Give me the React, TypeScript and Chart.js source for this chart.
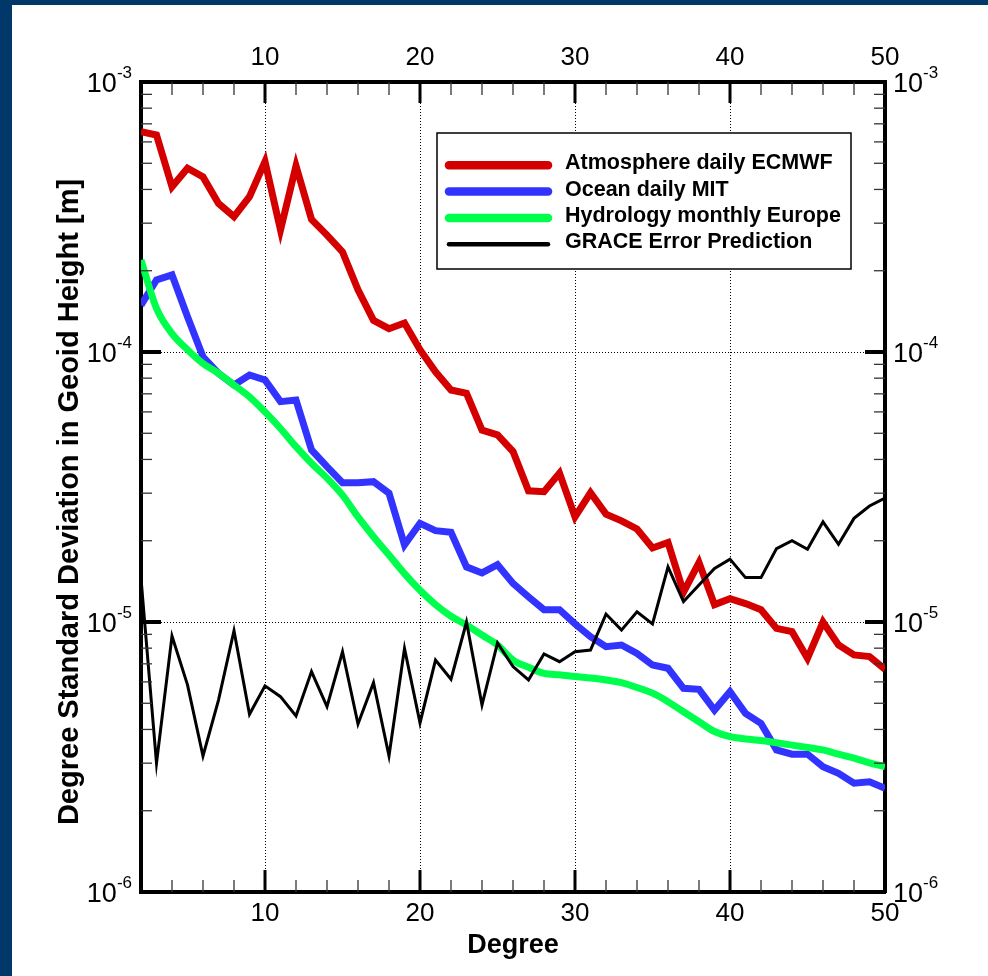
import React, { useEffect, useRef } from 'react';
import { Chart, registerables } from 'chart.js';

Chart.register(...registerables);

const degrees = [2, 3, 4, 5, 6, 7, 8, 9, 10, 11, 12, 13, 14, 15, 16, 17, 18, 19, 20, 21, 22, 23, 24, 25, 26, 27, 28, 29, 30, 31, 32, 33, 34, 35, 36, 37, 38, 39, 40, 41, 42, 43, 44, 45, 46, 47, 48, 49, 50];

const atmosphereDaily = [
  6.55e-4, 6.36e-4, 4.09e-4, 4.79e-4, 4.45e-4, 3.55e-4, 3.17e-4, 3.76e-4, 5.07e-4, 2.83e-4,
  4.89e-4, 3.1e-4, 2.71e-4, 2.35e-4, 1.7e-4, 1.31e-4, 1.22e-4, 1.28e-4, 1.02e-4, 8.45e-5,
  7.23e-5, 7.03e-5, 5.14e-5, 4.93e-5, 4.28e-5, 3.06e-5, 3.04e-5, 3.56e-5, 2.45e-5, 3.01e-5,
  2.51e-5, 2.37e-5, 2.21e-5, 1.88e-5, 1.97e-5, 1.29e-5, 1.66e-5, 1.16e-5, 1.22e-5, 1.17e-5,
  1.11e-5, 9.47e-6, 9.21e-6, 7.34e-6, 1.0e-5, 8.22e-6, 7.55e-6, 7.45e-6, 6.68e-6,
];

const oceanDaily = [
  1.49e-4, 1.85e-4, 1.93e-4, 1.35e-4, 9.6e-5, 8.34e-5, 7.55e-5, 8.22e-5, 7.88e-5, 6.55e-5,
  6.64e-5, 4.34e-5, 3.76e-5, 3.28e-5, 3.28e-5, 3.31e-5, 3.0e-5, 1.93e-5, 2.32e-5, 2.18e-5,
  2.15e-5, 1.6e-5, 1.52e-5, 1.63e-5, 1.39e-5, 1.24e-5, 1.11e-5, 1.11e-5, 9.84e-6, 8.83e-6,
  8.1e-6, 8.22e-6, 7.65e-6, 6.93e-6, 6.74e-6, 5.68e-6, 5.63e-6, 4.72e-6, 5.52e-6, 4.59e-6,
  4.21e-6, 3.36e-6, 3.24e-6, 3.24e-6, 2.91e-6, 2.75e-6, 2.53e-6, 2.56e-6, 2.42e-6,
];

const hydrologyMonthly = [
  2.19e-4, 1.45e-4, 1.17e-4, 1.02e-4, 9.07e-5, 8.34e-5, 7.55e-5, 6.82e-5, 6.0e-5, 5.21e-5,
  4.46e-5, 3.87e-5, 3.41e-5, 2.95e-5, 2.45e-5, 2.07e-5, 1.77e-5, 1.51e-5, 1.31e-5, 1.16e-5,
  1.05e-5, 9.75e-6, 8.95e-6, 8.22e-6, 7.23e-6, 6.8e-6, 6.45e-6, 6.38e-6, 6.28e-6, 6.2e-6,
  6.1e-6, 5.96e-6, 5.72e-6, 5.45e-6, 5.07e-6, 4.65e-6, 4.27e-6, 3.93e-6, 3.76e-6, 3.69e-6,
  3.64e-6, 3.57e-6, 3.5e-6, 3.43e-6, 3.36e-6, 3.24e-6, 3.13e-6, 3.01e-6, 2.91e-6,
];

const graceError = [
  1.45e-5, 3.0e-6, 8.87e-6, 5.85e-6, 3.19e-6, 5.14e-6, 9.29e-6, 4.55e-6, 5.8e-6, 5.29e-6,
  4.49e-6, 6.55e-6, 4.86e-6, 7.76e-6, 4.19e-6, 5.96e-6, 3.19e-6, 7.98e-6, 4.23e-6, 7.23e-6,
  6.14e-6, 1.0e-5, 4.93e-6, 8.36e-6, 6.84e-6, 6.1e-6, 7.61e-6, 7.13e-6, 7.76e-6, 7.87e-6,
  1.07e-5, 9.33e-6, 1.09e-5, 9.84e-6, 1.6e-5, 1.19e-5, 1.37e-5, 1.58e-5, 1.71e-5, 1.46e-5,
  1.46e-5, 1.87e-5, 2.0e-5, 1.86e-5, 2.35e-5, 1.94e-5, 2.42e-5, 2.69e-5, 2.88e-5,
];

const seriesLabels = ['Atmosphere daily ECMWF', 'Ocean daily MIT', 'Hydrology monthly Europe', 'GRACE Error Prediction'];
const seriesColors = ['#d40000', '#3333ff', '#00ff4c', '#000000'];

const xMajorTicks = [10, 20, 30, 40, 50];
const xMinorTicks = [4, 6, 8, 12, 14, 16, 18, 22, 24, 26, 28, 32, 34, 36, 38, 42, 44, 46, 48];
const yTickValues = [1e-6, 1e-5, 1e-4, 1e-3];
const yTickExponents = ['-6', '-5', '-4', '-3'];
const yMinorMultipliers = [2, 3, 4, 5, 6, 7, 8, 9];

const xAxisTitle = 'Degree';
const yAxisTitle = 'Degree Standard Deviation in Geoid Height [m]';

const FONT = '"Liberation Sans", Arial, Helvetica, sans-serif';

const toPoints = (vals: number[]) => degrees.map((d, i) => ({ x: d, y: vals[i] }));

const decorPlugin = {
  id: 'decor',
  afterDatasetsDraw(chart: any) {
    const { ctx, chartArea: a, scales } = chart;
    const xs = scales.x;
    const ys = scales.y;
    const seg = (x1: number, y1: number, x2: number, y2: number, w: number, c: string) => {
      ctx.beginPath();
      ctx.lineWidth = w;
      ctx.strokeStyle = c;
      ctx.lineCap = 'butt';
      ctx.moveTo(x1, y1);
      ctx.lineTo(x2, y2);
      ctx.stroke();
    };
    ctx.save();
    xMinorTicks.forEach((v) => {
      const px = xs.getPixelForValue(v);
      seg(px, a.bottom, px, a.bottom - 12, 1.3, '#333');
      seg(px, a.top, px, a.top + 13, 1.3, '#333');
    });
    xMajorTicks.forEach((v) => {
      if (v >= xs.max) return;
      const px = xs.getPixelForValue(v);
      seg(px, a.bottom, px, a.bottom - 22, 3, '#000');
      seg(px, a.top, px, a.top + 21, 3, '#000');
    });
    yTickValues.slice(0, -1).forEach((base) => {
      yMinorMultipliers.forEach((m) => {
        const py = ys.getPixelForValue(base * m);
        seg(a.left, py, a.left + 11, py, 1.3, '#333');
        seg(a.right, py, a.right - 11, py, 1.3, '#333');
      });
    });
    yTickValues.forEach((v) => {
      const py = ys.getPixelForValue(v);
      seg(a.left, py, a.left + 20, py, 4, '#000');
      seg(a.right, py, a.right - 20, py, 4, '#000');
    });
    ctx.restore();
  },
  afterDraw(chart: any) {
    const { ctx, chartArea: a, scales } = chart;
    const ys = scales.y;
    ctx.save();
    ctx.fillStyle = '#000';
    ctx.textBaseline = 'alphabetic';
    ctx.textAlign = 'left';
    const baseFont = `27px ${FONT}`;
    const supFont = `17px ${FONT}`;
    yTickValues.forEach((v, i) => {
      const py = ys.getPixelForValue(v);
      const sup = yTickExponents[i];
      ctx.font = supFont;
      const sw = ctx.measureText(sup).width;
      ctx.font = baseFont;
      const bw = ctx.measureText('10').width;
      const re = a.left - 9;
      ctx.fillText('10', re - sw - bw, py + 10);
      ctx.font = supFont;
      ctx.fillText(sup, re - sw, py - 4);
      const lx = a.right + 8;
      ctx.font = baseFont;
      ctx.fillText('10', lx, py + 10);
      ctx.font = supFont;
      ctx.fillText(sup, lx + bw, py - 4);
    });

    // y axis title
    ctx.save();
    ctx.translate(58, (a.top + a.bottom) / 2 + 15);
    ctx.rotate(-Math.PI / 2);
    ctx.textAlign = 'center';
    ctx.textBaseline = 'middle';
    ctx.font = `bold 29px ${FONT}`;
    ctx.fillText(yAxisTitle, 0, 0);
    ctx.restore();

    // legend
    const box = { l: 425, t: 128, r: 839, b: 264 };
    ctx.fillStyle = '#fff';
    ctx.fillRect(box.l, box.t, box.r - box.l, box.b - box.t);
    ctx.lineWidth = 1.5;
    ctx.strokeStyle = '#000';
    ctx.strokeRect(box.l, box.t, box.r - box.l, box.b - box.t);
    chart.data.datasets.forEach((ds: any, i: number) => {
      const yy = 160.3 + i * 26.3;
      ctx.beginPath();
      ctx.lineCap = 'round';
      ctx.lineWidth = ds.borderWidth + 1.5;
      ctx.strokeStyle = ds.borderColor;
      ctx.moveTo(437, yy);
      ctx.lineTo(536, yy);
      ctx.stroke();
      ctx.fillStyle = '#000';
      ctx.font = `bold 21.5px ${FONT}`;
      ctx.textAlign = 'left';
      ctx.textBaseline = 'middle';
      ctx.fillText(ds.label, 553, yy - 2);
    });
    ctx.restore();
  },
};

export default function App() {
  const ref = useRef<HTMLCanvasElement>(null);
  useEffect(() => {
    const setXTicks = (s: any) => {
      s.ticks = xMajorTicks.map((v) => ({ value: v }));
    };
    const setYTicks = (s: any) => {
      s.ticks = yTickValues.map((v) => ({ value: v }));
    };
    const chart = new Chart(ref.current as HTMLCanvasElement, {
      type: 'line',
      data: {
        datasets: [
          { label: seriesLabels[0], data: toPoints(atmosphereDaily), borderColor: seriesColors[0], borderWidth: 7, pointRadius: 0, tension: 0, order: 3 },
          { label: seriesLabels[1], data: toPoints(oceanDaily), borderColor: seriesColors[1], borderWidth: 7, pointRadius: 0, tension: 0, order: 2 },
          { label: seriesLabels[2], data: toPoints(hydrologyMonthly), borderColor: seriesColors[2], borderWidth: 7, pointRadius: 0, cubicInterpolationMode: 'monotone', order: 1 },
          { label: seriesLabels[3], data: toPoints(graceError), borderColor: seriesColors[3], borderWidth: 3, pointRadius: 0, tension: 0, order: 0 },
        ] as any,
      },
      plugins: [decorPlugin],
      options: {
        responsive: false,
        animation: false,
        devicePixelRatio: 1,
        layout: { padding: 0 },
        events: [],
        plugins: { legend: { display: false }, tooltip: { enabled: false } },
        scales: {
          x: {
            type: 'linear',
            position: 'bottom',
            min: 2,
            max: 50,
            afterBuildTicks: setXTicks,
            afterFit: (s: any) => { s.height = 84; },
            grid: {
              color: (c: any) => (c.tick && c.tick.value < 50 ? '#000' : 'rgba(0,0,0,0)'),
              lineWidth: 1,
              drawTicks: false,
            },
            border: { display: true, color: '#000', width: 4, dash: [1, 2] },
            ticks: {
              color: '#000',
              font: { family: FONT, size: 26, lineHeight: 1 },
              padding: 9,
              maxRotation: 0,
              autoSkip: false,
              callback: (v: any) => String(v),
            },
            title: {
              display: true,
              text: xAxisTitle,
              color: '#000',
              font: { family: FONT, size: 27, weight: 'bold', lineHeight: 1 },
              padding: { top: 0, bottom: 17 },
            },
          },
          x2: {
            type: 'linear',
            position: 'top',
            min: 2,
            max: 50,
            afterBuildTicks: setXTicks,
            afterFit: (s: any) => { s.height = 77; },
            grid: { display: false, drawTicks: false },
            border: { display: true, color: '#000', width: 4 },
            ticks: {
              color: '#000',
              font: { family: FONT, size: 26, lineHeight: 1 },
              padding: 11,
              maxRotation: 0,
              autoSkip: false,
              callback: (v: any) => String(v),
            },
          },
          y: {
            type: 'logarithmic',
            position: 'left',
            min: 1e-6,
            max: 1e-3,
            afterBuildTicks: setYTicks,
            afterFit: (s: any) => { s.width = 129; },
            grid: {
              color: (c: any) => (c.tick && c.tick.value > 1.5e-6 && c.tick.value < 9e-4 ? '#000' : 'rgba(0,0,0,0)'),
              lineWidth: 1,
              drawTicks: false,
            },
            border: { display: true, color: '#000', width: 4, dash: [1, 2] },
            ticks: { display: false },
          },
          y2: {
            type: 'logarithmic',
            position: 'right',
            min: 1e-6,
            max: 1e-3,
            afterBuildTicks: setYTicks,
            afterFit: (s: any) => { s.width = 103; },
            grid: { display: false, drawTicks: false },
            border: { display: true, color: '#000', width: 4 },
            ticks: { display: false },
          },
        },
      } as any,
    });
    return () => chart.destroy();
  }, []);

  return (
    <div style={{ position: 'fixed', left: 0, top: 0, width: 988, height: 976, background: '#00386a', overflow: 'hidden' }}>
      <div style={{ position: 'absolute', left: 12, top: 5, width: 976, height: 971, background: '#ffffff' }}>
        <canvas ref={ref} width={976} height={971} style={{ display: 'block', width: 976, height: 971 }} />
      </div>
    </div>
  );
}
